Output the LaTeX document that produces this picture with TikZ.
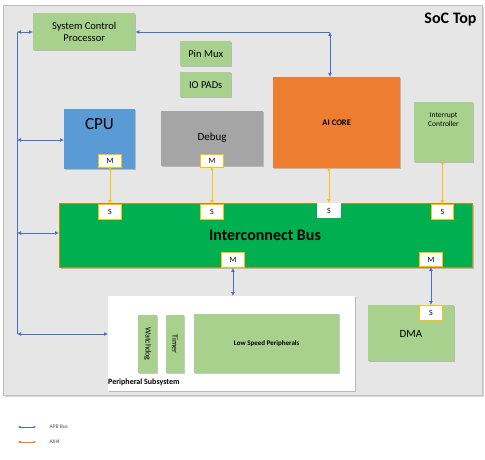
\documentclass[tikz,border=0pt]{standalone}
\usepackage{fontspec}
\setmainfont{Carlito}
\usetikzlibrary{arrows.meta,shadows}
\definecolor{bgray}{HTML}{E7E6E6}
\definecolor{bborder}{HTML}{BFBFBF}
\definecolor{lgreen}{HTML}{A9D18E}
\definecolor{cpublue}{HTML}{5B9BD5}
\definecolor{dbgray}{HTML}{A5A5A5}
\definecolor{aiorange}{HTML}{ED7D31}
\definecolor{busgreen}{HTML}{00B050}
\definecolor{busedge}{HTML}{BF9000}
\definecolor{gold}{HTML}{FFC000}
\definecolor{apbblue}{HTML}{4472C4}
\tikzset{
  shd/.style={drop shadow={shadow xshift=1.2pt,shadow yshift=-1.2pt,opacity=0.35,fill=black!60}},
  blk/.style={rectangle,inner sep=0pt,shd},
  gbox/.style={blk,fill=lgreen,draw=none},
  port/.style={rectangle,inner sep=0pt,draw=gold,line width=0.9pt,fill=white,font=\fontsize{8}{9}\selectfont},
  tip/.style={Latex[length=4pt,width=4pt]},
  apb/.style={draw=apbblue,line width=0.8pt,{Latex[length=4pt,width=4pt]}-{Latex[length=4pt,width=4pt]}},
  axi/.style={draw=gold,line width=0.8pt,{Circle[length=2.5pt]}-{Latex[length=4pt,width=4pt]}},
}
\newcommand{\rbox}[6]{% name, x1,y1,x2,y2, style
  \node[#6,minimum width={(#4-#2)*1pt},minimum height={(#5-#3)*1pt},anchor=north west] (#1) at (#2,#3) {};}
\begin{document}
\begin{tikzpicture}[x=1pt,y=-1pt]
\useasboundingbox (0,0) rectangle (485,460);
\fill[white] (0,0) rectangle (485,460);
% outer box
\node[rectangle,fill=bgray,draw=bborder,line width=0.5pt,minimum width=479pt,minimum height=390pt,anchor=north west,inner sep=0pt,drop shadow={shadow xshift=1.5pt,shadow yshift=-1.5pt,opacity=0.3}] (soc) at (3,5) {};
\node[font=\bfseries\fontsize{16}{18}\selectfont,anchor=north east] (soclbl) at (480,9) {SoC Top};
% boxes
\rbox{scp}{33}{13}{135}{50}{gbox}
\node[font=\fontsize{10.5}{12}\selectfont,align=center] (scpt) at (scp.center) {System Control\\Processor};
\rbox{pin}{180}{41}{231}{66}{gbox}
\node[font=\fontsize{10.5}{12}\selectfont] (pint) at (pin.center) {Pin Mux};
\rbox{io}{180}{72}{231}{97}{gbox}
\node[font=\fontsize{10.5}{12}\selectfont] (iot) at (io.center) {IO PADs};
\rbox{cpu}{64}{109}{135}{169}{blk,fill=cpublue}
\node[font=\fontsize{17}{19}\selectfont] (cput) at (99.5,124) {CPU};
\rbox{dbg}{161}{111}{263}{166}{blk,fill=dbgray}
\node[font=\fontsize{11}{13}\selectfont] (dbgt) at (212,138) {Debug};
\rbox{ai}{273}{77}{400}{168}{blk,fill=aiorange}
\node[font=\bfseries\fontsize{8.5}{10}\selectfont] (ait) at (ai.center) {AI CORE};
\rbox{irq}{414}{102}{473}{162}{gbox}
\node[font=\fontsize{7.5}{9}\selectfont,align=center] (irqt) at (443.5,120) {Interrupt\\Controller};
\rbox{bus}{59}{203}{472}{267}{blk,fill=busgreen,draw=busedge,line width=0.6pt}
\node[font=\bfseries\fontsize{16}{18}\selectfont] (bust) at (265,235) {Interconnect Bus};
% peripheral subsystem
\rbox{per}{108}{296}{355}{391}{blk,fill=white}
\rbox{wd}{138}{315}{157}{373}{gbox}
\node[font=\fontsize{8}{9}\selectfont,rotate=-90] (wdt) at (wd.center) {Watchdog};
\rbox{tm}{166}{315}{184}{373}{gbox}
\node[font=\fontsize{8}{9}\selectfont,rotate=-90] (tmt) at (tm.center) {Timer};
\rbox{lsp}{194}{314}{339}{373}{gbox}
\node[font=\bfseries\fontsize{7}{8}\selectfont] (lspt) at (lsp.center) {Low Speed Peripherals};
\node[font=\bfseries\fontsize{8}{9}\selectfont,anchor=west,inner sep=0pt] (pert) at (108,382) {Peripheral Subsystem};
\rbox{dma}{368}{305}{454}{361}{gbox}
\node[font=\fontsize{11}{13}\selectfont] (dmat) at (411,334) {DMA};
% ports
\rbox{cpum}{98}{154}{121}{167}{port}
\node[font=\fontsize{8}{9}\selectfont] at (cpum.center) {M};
\rbox{dbgm}{200}{154}{223}{167}{port}
\node[font=\fontsize{8}{9}\selectfont] at (dbgm.center) {M};
\rbox{cpus}{98}{204}{121}{219}{port}
\node[font=\fontsize{8}{9}\selectfont] at (cpus.center) {S};
\rbox{dbgs}{200}{204}{223}{219}{port}
\node[font=\fontsize{8}{9}\selectfont] at (dbgs.center) {S};
\rbox{ais}{317}{203}{340}{217}{port,draw=white}
\node[font=\fontsize{8}{9}\selectfont] at (ais.center) {S};
\rbox{irqs}{431}{204}{453}{219}{port}
\node[font=\fontsize{8}{9}\selectfont] at (irqs.center) {S};
\rbox{busm1}{221}{252}{244}{267}{port}
\node[font=\fontsize{8}{9}\selectfont] at (busm1.center) {M};
\rbox{busm2}{419}{252}{442}{266}{port}
\node[font=\fontsize{8}{9}\selectfont] at (busm2.center) {M};
\rbox{dmas}{419}{305}{442}{320}{port}
\node[font=\fontsize{8}{9}\selectfont] at (dmas.center) {S};
% AXI connectors
\draw[axi] (cpum.south) -- (cpus.north);
\draw[axi] (dbgm.south) -- (dbgs.north);
\draw[axi] (ai.south -| ais.north) -- (ais.north);
\draw[axi] (irq.south -| irqs.north) -- (irqs.north);
% APB connectors
\coordinate (ltop) at (17,32);
\coordinate (lbot) at (17,334);
\draw[draw=apbblue,line width=0.8pt] (ltop) -- (lbot);
\draw[apb] (ltop) -- (scp.west |- ltop);
\draw[apb] (17,140) -- (cpu.west |- 0,140);
\draw[apb] (17,233) -- (bus.west |- 0,233);
\draw[apb] (lbot) -- (per.west |- lbot);
\coordinate (aic) at (330,32);
\draw[draw=apbblue,line width=0.8pt,-{Latex[length=4pt,width=4pt]}] (aic) -- (scp.east |- aic);
\draw[apb] (aic) -- (aic |- ai.north);
\draw[apb] (busm1.south) -- (busm1.south |- per.north);
\draw[apb] (busm2.south) -- (dmas.north);
% legend
\coordinate (l1a) at (18,427); \coordinate (l1b) at (36,427);
\draw[draw=apbblue,line width=0.5pt,{Latex[length=2.5pt,width=2.5pt]}-{Latex[length=2.5pt,width=2.5pt]}] (l1a) -- (l1b);
\node[font=\fontsize{5.5}{6}\selectfont,anchor=west,text=black!70] (leg1) at (46,427) {APB Bus};
\coordinate (l2a) at (18,442); \coordinate (l2b) at (36,442);
\draw[draw=aiorange,line width=0.5pt,{Latex[length=2.5pt,width=2.5pt]}-{Latex[length=2.5pt,width=2.5pt]}] (l2a) -- (l2b);
\node[font=\fontsize{5.5}{6}\selectfont,anchor=west,text=black!70] (leg2) at (46,442) {AXI4};
\end{tikzpicture}
\end{document}
